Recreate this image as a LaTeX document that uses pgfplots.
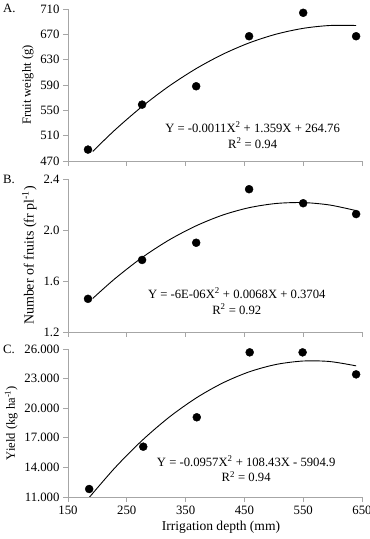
\documentclass[border=0pt]{standalone}
\usepackage{fontspec}
\setmainfont{Liberation Serif}
\usepackage{pgfplots}
\pgfplotsset{compat=1.18}

\definecolor{axisgray}{RGB}{166,166,166}

\pgfplotsset{
  panel/.style={
    scale only axis, width=294bp,
    xmin=150, xmax=650, xtick={150,250,...,650},
    axis x line*=bottom, axis y line*=left,
    axis line style={axisgray, line width=0.8bp, -},
    tick style={axisgray, line width=0.8bp},
    tick align=outside, major tick length=5bp,
    tick label style={font=\fontsize{12.8}{14}\selectfont, black},
    label style={font=\fontsize{12.6}{14}\selectfont, black},
    /pgf/number format/assume math mode=true,
    scaled y ticks=false,
    clip mode=individual,
  },
  dots/.style={only marks, mark=*, mark size=4bp, black},
  fit/.style={no marks, smooth, black, line width=0.9bp},
}
\tikzset{eq/.style={font=\fontsize{12.7}{16}\selectfont, align=center}}

\begin{document}
\begin{tikzpicture}
\path[use as bounding box] (0,0) rectangle (370bp,539bp);

% A. Fruit weight
\begin{axis}[panel, at={(68bp,378bp)}, anchor=south west, height=152bp,
  ymin=470, ymax=710, ytick={470,510,...,710},
  xticklabels={},
  ylabel={Fruit weight (g)}]
\addplot[fit] coordinates {(192,485.1) (230,519.14) (276,556.05) (322,588.31)
  (368,615.90) (413,638.40) (458,656.44) (504,670.28) (550,679.46)
  (595,683.94) (640,683.96)};
\addplot[dots] coordinates {(184,488) (276,559) (368,588) (458,667) (550,704) (640,667)};
\node[eq] at (axis cs:464,511) {Y = -0.0011X\textsuperscript{2} + 1.359X + 264.76\\R\textsuperscript{2} = 0.94};
\end{axis}

% B. Number of fruits
\begin{axis}[panel, at={(68bp,207bp)}, anchor=south west, height=153bp,
  ymin=1.2, ymax=2.4, ytick={1.2,1.6,2.0,2.4},
  yticklabel style={/pgf/number format/.cd, fixed, fixed zerofill, precision=1},
  xticklabels={},
  ylabel={Number of fruits (fr pl\textsuperscript{-1})},
  ylabel style={font=\fontsize{14}{16}\selectfont}]
\addplot[fit] coordinates {(192,1.463) (230,1.619) (276,1.784) (322,1.922)
  (368,2.033) (413,2.117) (458,2.175) (504,2.208) (550,2.215)
  (595,2.196) (640,2.152)};
\addplot[dots] coordinates {(184,1.46) (276,1.765) (368,1.90) (458,2.32) (550,2.21) (640,2.125)};
\node[eq] at (axis cs:437,1.441) {Y = -6E-06X\textsuperscript{2} + 0.0068X + 0.3704\\R\textsuperscript{2} = 0.92};
\end{axis}

% C. Yield
\begin{axis}[panel, at={(68bp,42bp)}, anchor=south west, height=148bp,
  ymin=11000, ymax=26000, ytick={11000,14000,...,26000},
  yticklabels={11.000,14.000,17.000,20.000,23.000,26.000},
  xlabel={Irrigation depth (mm)},
  xlabel style={xshift=6bp, font=\fontsize{13.6}{15}\selectfont},
  ylabel={Yield (kg ha\textsuperscript{-1})}]
\addplot[fit] coordinates {(184,10806) (230,13972) (276,16732) (322,19087)
  (368,21037) (413,22553) (458,23682) (504,24435) (550,24782)
  (595,24731) (640,24292)};
\addplot[dots] coordinates {(186,11810) (278,16100) (369,19080) (459,25660) (549,25660) (640,23430)};
\node[eq] at (axis cs:453,13838) {Y = -0.0957X\textsuperscript{2} + 108.43X - 5904.9\\R\textsuperscript{2} = 0.94};
\end{axis}

% panel letters
\node[anchor=base west, inner sep=0, font=\fontsize{12.8}{14}\selectfont] at (3bp,526bp) {A.};
\node[anchor=base west, inner sep=0, font=\fontsize{12.8}{14}\selectfont] at (3bp,355bp) {B.};
\node[anchor=base west, inner sep=0, font=\fontsize{12.8}{14}\selectfont] at (3bp,185bp) {C.};
\end{tikzpicture}
\end{document}
